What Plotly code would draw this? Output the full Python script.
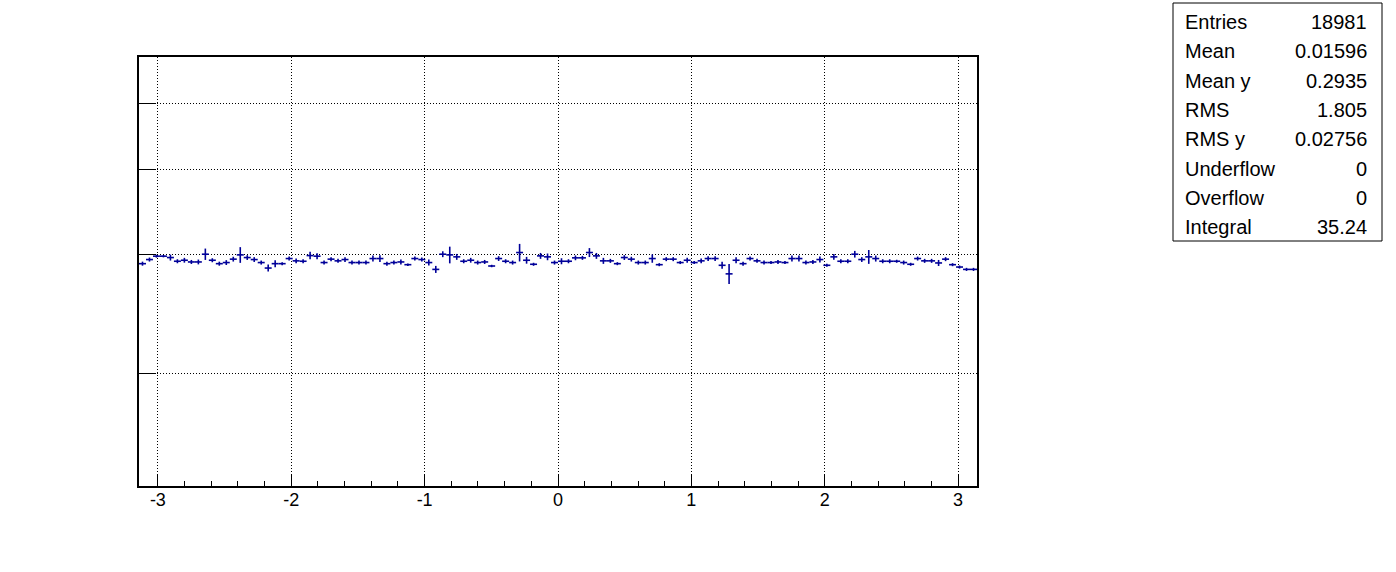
import numpy as np
import plotly.graph_objects as go

# Profile values (120 bins over [-pi, pi])
values = [
    0.2905, 0.2946, 0.2980, 0.2980, 0.2966, 0.2929, 0.2939, 0.2922, 0.2922, 0.3000,
    0.2939, 0.2905, 0.2916, 0.2950, 0.2993, 0.2966, 0.2946, 0.2916, 0.2862, 0.2905,
    0.2905, 0.2956, 0.2933, 0.2929, 0.2986, 0.2980, 0.2916, 0.2950, 0.2933, 0.2946,
    0.2916, 0.2916, 0.2916, 0.2956, 0.2956, 0.2905, 0.2916, 0.2922, 0.2895, 0.2956,
    0.2946, 0.2916, 0.2849, 0.3000, 0.2993, 0.2973, 0.2929, 0.2939, 0.2916, 0.2922,
    0.2882, 0.2956, 0.2929, 0.2916, 0.3017, 0.2939, 0.2899, 0.2983, 0.2973, 0.2916,
    0.2929, 0.2929, 0.2963, 0.2963, 0.3017, 0.2983, 0.2933, 0.2933, 0.2905, 0.2966,
    0.2950, 0.2916, 0.2916, 0.2956, 0.2895, 0.2950, 0.2950, 0.2916, 0.2939, 0.2916,
    0.2933, 0.2956, 0.2956, 0.2889, 0.2806, 0.2939, 0.2905, 0.2956, 0.2933, 0.2916,
    0.2916, 0.2922, 0.2916, 0.2956, 0.2956, 0.2916, 0.2922, 0.2946, 0.2889, 0.2973,
    0.2929, 0.2929, 0.3000, 0.2946, 0.2973, 0.2956, 0.2929, 0.2929, 0.2929, 0.2916,
    0.2899, 0.2956, 0.2933, 0.2933, 0.2912, 0.2950, 0.2895, 0.2872, 0.2849, 0.2849,
]

errors = [
    0.0020, 0.0020, 0.0015, 0.0012, 0.0030, 0.0020, 0.0024, 0.0020, 0.0024, 0.0058,
    0.0020, 0.0020, 0.0024, 0.0024, 0.0080, 0.0024, 0.0024, 0.0020, 0.0034, 0.0034,
    0.0015, 0.0020, 0.0024, 0.0020, 0.0038, 0.0030, 0.0020, 0.0020, 0.0020, 0.0024,
    0.0020, 0.0020, 0.0020, 0.0030, 0.0034, 0.0020, 0.0020, 0.0024, 0.0012, 0.0020,
    0.0020, 0.0030, 0.0034, 0.0030, 0.0085, 0.0030, 0.0020, 0.0024, 0.0020, 0.0020,
    0.0012, 0.0024, 0.0020, 0.0020, 0.0090, 0.0034, 0.0015, 0.0030, 0.0034, 0.0020,
    0.0030, 0.0020, 0.0024, 0.0020, 0.0046, 0.0030, 0.0030, 0.0020, 0.0015, 0.0024,
    0.0024, 0.0020, 0.0020, 0.0042, 0.0015, 0.0020, 0.0020, 0.0015, 0.0024, 0.0015,
    0.0024, 0.0024, 0.0024, 0.0034, 0.0095, 0.0030, 0.0020, 0.0020, 0.0020, 0.0020,
    0.0015, 0.0020, 0.0015, 0.0030, 0.0030, 0.0020, 0.0020, 0.0030, 0.0015, 0.0030,
    0.0020, 0.0020, 0.0034, 0.0024, 0.0070, 0.0030, 0.0020, 0.0020, 0.0015, 0.0020,
    0.0015, 0.0020, 0.0020, 0.0020, 0.0030, 0.0020, 0.0015, 0.0015, 0.0015, 0.0015,
]

x_ticks = [-3, -2, -1, 0, 1, 2, 3]
y_ticks = [0.2, 0.3, 0.4, 0.5]

stats_labels = ["Entries", "Mean", "Mean y", "RMS", "RMS y", "Underflow", "Overflow", "Integral"]
stats_values = ["18981", "0.01596", "0.2935", "1.805", "0.02756", "0", "0", "35.24"]

nbins = len(values)
edges = np.linspace(-np.pi, np.pi, nbins + 1)
centers = 0.5 * (edges[:-1] + edges[1:])
halfw = 0.5 * (edges[1] - edges[0])

navy = "#000099"
FONT = "Liberation Sans, Arial, Helvetica, sans-serif"

W, H = 1396, 572
L, R, T, B = 139, 977, 57, 486

fig = go.Figure()
fig.add_trace(go.Scatter(
    x=centers, y=values, mode="markers",
    marker=dict(size=1, color=navy),
    error_x=dict(type="constant", value=halfw, width=0, thickness=1.6, color=navy),
    error_y=dict(type="data", array=errors, width=0, thickness=1.6, color=navy),
    showlegend=False, hoverinfo="skip",
))

fig.update_layout(
    width=W, height=H,
    margin=dict(l=L, r=W - R, t=T, b=H - B, pad=0),
    paper_bgcolor="white", plot_bgcolor="white",
    font=dict(family=FONT, size=18, color="black"),
    xaxis=dict(
        range=[-np.pi, np.pi], tickvals=x_ticks, ticktext=[str(v) for v in x_ticks],
        ticks="inside", ticklen=11, tickwidth=1, tickcolor="black",
        showline=True, linewidth=2, linecolor="black", mirror=True,
        showgrid=True, gridcolor="black", griddash="1px,2px", gridwidth=1,
        zeroline=False, ticklabelstandoff=-4,
        minor=dict(dtick=0.2, tick0=0, ticks="inside", ticklen=5, tickcolor="black", showgrid=False),
        tickfont=dict(family=FONT, size=18, color="black"),
    ),
    yaxis=dict(
        type="log", range=[np.log10(0.1364), np.log10(0.5866)],
        tickvals=y_ticks, showticklabels=False,
        ticks="inside", ticklen=17, tickwidth=1, tickcolor="black",
        showline=True, linewidth=2, linecolor="black", mirror=True,
        showgrid=True, gridcolor="black", griddash="1px,2px", gridwidth=1,
        zeroline=False,
    ),
)

def px_to_paper_x(px):
    return (px - L) / (R - L)

def px_to_paper_y(py):
    return (B - py) / (B - T)

fig.add_shape(type="rect", xref="paper", yref="paper",
              x0=px_to_paper_x(1173), x1=px_to_paper_x(1382),
              y0=px_to_paper_y(241), y1=px_to_paper_y(3),
              line=dict(color="black", width=1), fillcolor="white")

for i, (lab, val) in enumerate(zip(stats_labels, stats_values)):
    yc = 22 + i * 29.3
    fig.add_annotation(xref="paper", yref="paper", x=px_to_paper_x(1183), y=px_to_paper_y(yc),
                       text=lab, showarrow=False, xanchor="left", yanchor="middle",
                       font=dict(family=FONT, size=20, color="black"))
    fig.add_annotation(xref="paper", yref="paper", x=px_to_paper_x(1369), y=px_to_paper_y(yc),
                       text=val, showarrow=False, xanchor="right", yanchor="middle",
                       font=dict(family=FONT, size=20, color="black"))

fig.write_html("out.html", config={"displayModeBar": False},
               post_script="document.body.style.margin='0';")
